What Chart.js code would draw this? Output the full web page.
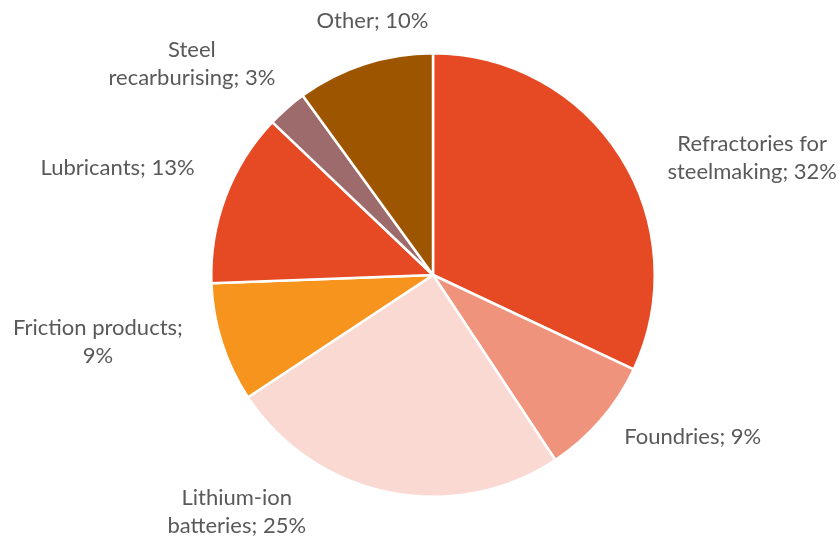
<!DOCTYPE html>
<html>
<head>
<meta charset="utf-8">
<script src="https://cdn.jsdelivr.net/npm/chart.js@4.4.1/dist/chart.umd.min.js"></script>
<style>
  html, body { margin: 0; padding: 0; background: #fff; }
  #wrap { width: 839px; height: 539px; position: relative; }
</style>
</head>
<body>
<div id="wrap"><canvas id="graphiteChart"></canvas></div>
<script>
// end uses of graphite (share, %)
var categories = ['Refractories for steelmaking', 'Foundries', 'Lithium-ion batteries', 'Friction products', 'Lubricants', 'Steel recarburising', 'Other'];
var shares = [32, 8.7, 25, 8.7, 12.7, 2.9, 10];
var shareLabels = ['32%', '9%', '25%', '9%', '13%', '3%', '10%'];
// how each label is broken into lines
var labelLines = [
  ['Refractories for', 'steelmaking; 32%'],
  ['Foundries; 9%'],
  ['Lithium-ion', 'batteries; 25%'],
  ['Friction products;', '9%'],
  ['Lubricants; 13%'],
  ['Steel', 'recarburising; 3%'],
  ['Other; 10%']
];
var sliceColors = ['#E64A24', '#F0937D', '#F9D9D2', '#F7941E', '#E64A24', '#9D6B6C', '#9E5500'];

// nudges of each label from the outer middle of its slice
var labelNudge = [[132, 2], [92, 17], [-152, 20], [-124, -1], [-108, -29], [-95, -44], [8, -43]];

var outsideLabels = {
  id: 'outsideLabels',
  afterDatasetsDraw: function (chart) {
    var ctx = chart.ctx;
    var meta = chart.getDatasetMeta(0);
    ctx.save();
    ctx.font = '22px Lato';
    ctx.fillStyle = '#595959';
    ctx.textAlign = 'center';
    ctx.textBaseline = 'middle';
    meta.data.forEach(function (arc, i) {
      var mid = (arc.startAngle + arc.endAngle) / 2;
      var x = arc.x + Math.cos(mid) * arc.outerRadius + labelNudge[i][0];
      var y = arc.y + Math.sin(mid) * arc.outerRadius + labelNudge[i][1];
      var lines = labelLines[i];
      var lh = 28;
      var y0 = y - (lines.length - 1) * lh / 2;
      lines.forEach(function (t, j) {
        ctx.fillText(t, x, y0 + j * lh);
      });
    });
    ctx.restore();
  }
};

var ctx = document.getElementById('graphiteChart').getContext('2d');
var graphiteChart = new Chart(ctx, {
  type: 'pie',
  data: {
    labels: categories,
    datasets: [{
      data: shares,
      backgroundColor: sliceColors,
      borderColor: '#ffffff',
      borderWidth: 2.5
    }]
  },
  options: {
    responsive: true,
    maintainAspectRatio: false,
    animation: false,
    layout: { padding: { top: 52, bottom: 41, left: 27, right: 0 } },
    plugins: {
      legend: { display: false },
      tooltip: { enabled: false }
    }
  },
  plugins: [outsideLabels]
});
</script>
</body>
</html>
